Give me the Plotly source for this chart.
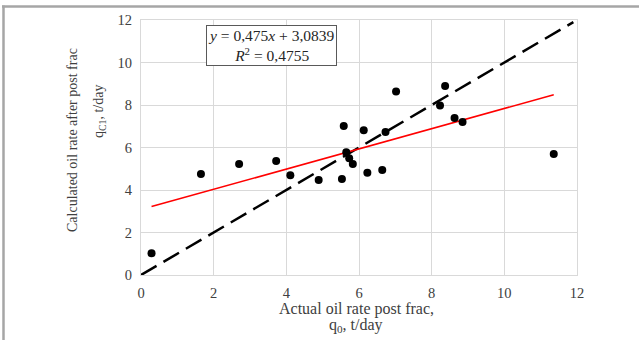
import plotly.graph_objects as go

actual_rate = [0.29, 1.65, 2.70, 3.72, 4.11, 4.89, 5.53, 5.58, 5.65, 5.73, 5.83,
               6.13, 6.23, 6.64, 6.73, 7.02, 8.23, 8.37, 8.63, 8.85, 11.36]
calc_rate = [1.02, 4.75, 5.22, 5.36, 4.69, 4.47, 4.52, 7.01, 5.78, 5.50, 5.22,
             6.81, 4.81, 4.94, 6.73, 8.64, 7.98, 8.89, 7.39, 7.20, 5.69]
slope = 0.475
intercept = 3.0839
r2 = 0.4755
diag_x = [0, 11.9]
axis_ticks = [0, 2, 4, 6, 8, 10, 12]

trend_x = [min(actual_rate), max(actual_rate)]
trend_y = [slope * v + intercept for v in trend_x]

FONT = "Liberation Serif"
L, R, T, B = 141, 62, 20, 65
PW, PH = 639 - L - R, 340 - T - B


def px_x(p):
    return (p - L) / PW


def px_y(p):
    return (340 - B - p) / PH


fig = go.Figure()
fig.add_trace(go.Scatter(x=diag_x, y=diag_x, mode="lines",
                         line=dict(color="black", width=2.5, dash="18px,8px"),
                         hoverinfo="skip", showlegend=False))
fig.add_trace(go.Scatter(x=trend_x, y=trend_y, mode="lines",
                         line=dict(color="#ff0000", width=1.6),
                         showlegend=False))
fig.add_trace(go.Scatter(x=actual_rate, y=calc_rate, mode="markers",
                         marker=dict(color="black", size=8),
                         showlegend=False))

axis_common = dict(range=[0, 12], tickvals=axis_ticks, showgrid=True,
                   gridcolor="#d9d9d9", gridwidth=1, zeroline=False,
                   showline=True, linecolor="#d9d9d9", linewidth=1, mirror=True,
                   tickfont=dict(family=FONT, size=14.5, color="#404040"),
                   ticks="outside", ticklen=5, tickcolor="rgba(0,0,0,0)",
                   automargin=False)

fig.update_xaxes(**axis_common)
fig.update_yaxes(**axis_common)

title_font = dict(family=FONT, size=16, color="#404040")
fig.add_annotation(xref="paper", yref="paper", x=px_x(356), y=px_y(309),
                   text="Actual oil rate post frac,", showarrow=False,
                   font=title_font, xanchor="center", yanchor="middle")
fig.add_annotation(xref="paper", yref="paper", x=px_x(356), y=px_y(325),
                   text="q<sub>0</sub>, t/day", showarrow=False,
                   font=title_font, xanchor="center", yanchor="middle")
ytitle_font = dict(family=FONT, size=14, color="#404040")
fig.add_annotation(xref="paper", yref="paper", x=px_x(72), y=px_y(140),
                   text="Calculated oil rate after post frac", showarrow=False,
                   font=ytitle_font, textangle=-90, xanchor="center", yanchor="middle")
fig.add_annotation(xref="paper", yref="paper", x=px_x(99), y=px_y(112),
                   text="q<sub>C1</sub>, t/day", showarrow=False,
                   font=ytitle_font, textangle=-90, xanchor="center", yanchor="middle")

fig.add_annotation(x=3.6, y=10.82, xref="x", yref="y",
                   text=f"<i>y</i> = {str(slope).replace('.', ',')}<i>x</i> + {str(intercept).replace('.', ',')}<br><i>R</i><sup>2</sup> = {str(r2).replace('.', ',')}",
                   showarrow=False, font=dict(family=FONT, size=15.5, color="#262626"),
                   bordercolor="#595959", borderwidth=1, bgcolor="white", borderpad=1)

# outer frame lines (top and left)
fig.add_shape(type="line", xref="paper", yref="paper",
              x0=px_x(2), x1=px_x(639), y0=px_y(6.5), y1=px_y(6.5),
              line=dict(color="#a6a6a6", width=2.5))
fig.add_shape(type="line", xref="paper", yref="paper",
              x0=px_x(3.5), x1=px_x(3.5), y0=px_y(340), y1=px_y(5.5),
              line=dict(color="#a6a6a6", width=2.5))

fig.update_layout(width=639, height=340,
                  margin=dict(l=L, r=R, t=T, b=B, autoexpand=False),
                  paper_bgcolor="white", plot_bgcolor="white",
                  font=dict(family=FONT))
fig.write_html("out.html", config={"displayModeBar": False},
               post_script="document.body.style.margin='0';document.body.style.overflow='hidden';")
